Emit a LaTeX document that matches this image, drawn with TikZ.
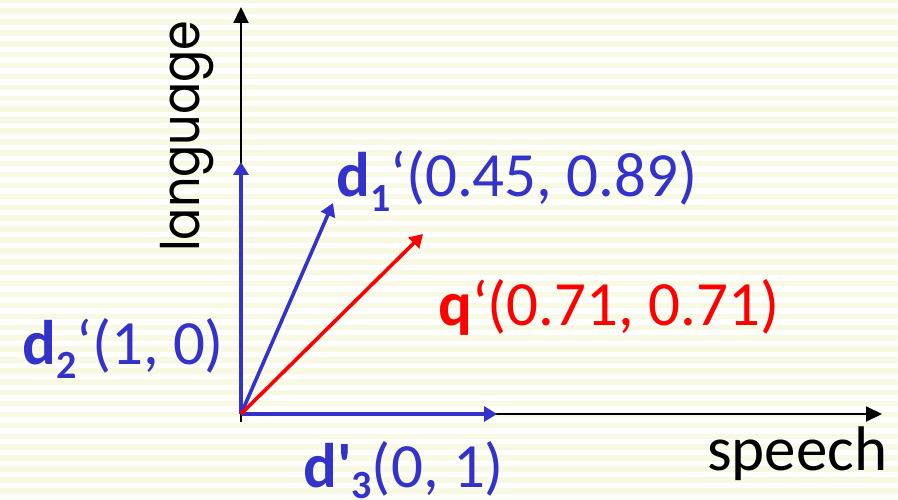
\documentclass[tikz,border=0pt]{standalone}
\usepackage{fontspec}
\setmainfont{Carlito}
\newfontfamily\geofont{Poppins}
\newfontfamily\calraw{Carlito}
\usetikzlibrary{arrows.meta}
\definecolor{vblue}{RGB}{51,51,204}
\definecolor{vred}{RGB}{255,0,0}
\definecolor{stripe}{RGB}{247,249,226}
\tikzset{
  axisline/.style={draw=black,line width=2pt,-{Triangle[length=16pt,width=15pt]}},
  vecline/.style={line width=3.6pt,-{Triangle[length=13pt,width=15pt]}},
  lbl/.style={anchor=base west,inner sep=0pt,font=\calraw\fontsize{63}{70}\selectfont},
}
\newcommand{\sbs}[2][-14pt]{\raisebox{#1}{\fontsize{40}{44}\selectfont\bfseries #2}}
\begin{document}
\begin{tikzpicture}[x=1pt,y=-1pt]
\useasboundingbox (0,0) rectangle (898,500);
\fill[white] (0,0) rectangle (898,500);
\foreach \i in {0,...,46}{
  \fill[stripe] (0,\i*10.9-2.5) rectangle (898,\i*10.9+3);
}
\coordinate (O) at (241,414);
\coordinate (Ybot) at (241,422);
\coordinate (Ytop) at (241,7);
\coordinate (Xend) at (882,414);
\coordinate (D1) at (333,203);
\coordinate (D2) at (241,162);
\coordinate (D3) at (497,414);
\coordinate (Q) at (423,234);
\draw[axisline] (Ybot) -- (Ytop);
\draw[axisline] (O) -- (Xend);
\draw[vecline,vblue] (O) -- (D2);
\draw[vecline,vblue] (O) -- (D3);
\draw[vecline,vblue] (O) -- (D1);
\draw[vecline,vred] (O) -- (Q);
\node[lbl,text=vblue] (l1) at (336,197) {\textbf{d}\sbs{1}‘(0.45, 0.89)};
\node[lbl,text=vred] (lq) at (438,325) {\textbf{q}‘(0.71, 0.71)};
\node[lbl,text=vblue] (l2) at (22,364) {\textbf{d}\sbs{2}‘(1, 0)};
\node[lbl,text=vblue] (l3) at (303,487) {\textbf{d'}\sbs[-11pt]{3}(0, 1)};
\node[lbl,text=black] (sp) at (707,470) {speech};
\node[anchor=base west,inner sep=0pt,rotate=90,font=\geofont\fontsize{53}{60}\selectfont] (lang) at (199,252) {\scalebox{0.9}[1]{language}};
\end{tikzpicture}
\end{document}
